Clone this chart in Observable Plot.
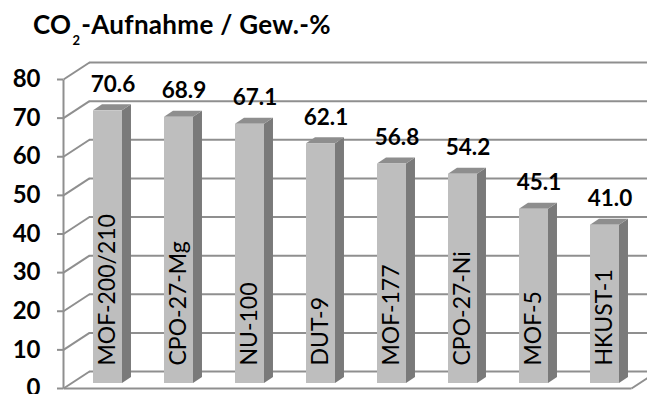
<!DOCTYPE html>
<html>
<head>
<meta charset="utf-8">
<script src="https://cdn.jsdelivr.net/npm/d3@7"></script>
<script src="https://cdn.jsdelivr.net/npm/@observablehq/plot@0.6"></script>
<style>
  html, body { margin: 0; padding: 0; background: #fff; }
  #wrap { width: 647px; height: 394px; overflow: hidden; }
  #title {
    height: 48px; box-sizing: border-box; padding: 11px 0 0 33px;
    font: bold 26px/26px Lato, sans-serif; color: #000; white-space: nowrap;
    letter-spacing: 0.3px;
  }
  #title .sub { font-size: 13px; position: relative; top: 11px; margin: 0 1px; }
  #chart svg { display: block; }
</style>
</head>
<body>
<div id="wrap">
  <div id="title">CO<span class="sub">2</span>-Aufnahme / Gew.-%</div>
  <div id="chart"></div>
</div>
<script>
// CO2 uptake of metal-organic frameworks, weight percent
const categories = ["MOF-200/210", "CPO-27-Mg", "NU-100", "DUT-9", "MOF-177", "CPO-27-Ni", "MOF-5", "HKUST-1"];
const uptake = [70.6, 68.9, 67.1, 62.1, 56.8, 54.2, 45.1, 41.0];
const yTicks = [0, 10, 20, 30, 40, 50, 60, 70, 80];

const W = 647, H = 346;
const margin = {left: 72, right: 7, top: 26, bottom: 11};
const xDomain = [-0.5, categories.length - 0.5];
const yDomain = [0, 80];

// pixels per data unit, used to express the oblique depth offsets in data units
const kx = (W - margin.left - margin.right) / (xDomain[1] - xDomain[0]);
const ky = (H - margin.top - margin.bottom) / (yDomain[1] - yDomain[0]);
const off = (px, py) => ({x: px / kx, y: -py / ky});
const front = off(-9, 5);    // front plane of the box (axis side)
const back = off(17, -12);   // back wall
const depth = off(9, -6);    // bar depth
const half = 0.204;          // half bar width, in slots

const rows = categories.map((name, i) => ({name, i, value: uptake[i]}));

// faces of each bar as two-point areas (parallelograms)
const sides = rows.flatMap(d => [
  {name: d.name, x: d.i + half, y1: 0, y2: d.value},
  {name: d.name, x: d.i + half + depth.x, y1: depth.y, y2: d.value + depth.y}
]);
const tops = rows.flatMap(d => [
  {name: d.name, y: d.value, x1: d.i - half, x2: d.i + half},
  {name: d.name, y: d.value + depth.y, x1: d.i - half + depth.x, x2: d.i + half + depth.x}
]);

const x0 = xDomain[0], x1 = xDomain[1];
const grid = "#8f8f8f";

const chart = Plot.plot({
  width: W, height: H,
  marginLeft: margin.left, marginRight: margin.right,
  marginTop: margin.top, marginBottom: margin.bottom,
  x: {domain: xDomain, axis: null},
  y: {domain: yDomain, axis: null},
  style: {fontFamily: "Lato, sans-serif", background: "#fff", overflow: "visible"},
  marks: [
    // back wall gridlines
    Plot.ruleY(yTicks, {y: t => t + back.y, x1: x0 + back.x, x2: x1 + back.x + 1, stroke: grid, strokeWidth: 2}),
    // side wall gridlines
    Plot.link(yTicks, {x1: x0 + front.x, y1: t => t + front.y, x2: x0 + back.x, y2: t => t + back.y, stroke: grid, strokeWidth: 2}),
    // floor edges
    Plot.link([0], {x1: x0 + front.x, y1: front.y, x2: x1 + front.x, y2: front.y, stroke: grid, strokeWidth: 2}),
    Plot.link([0], {x1: x1 + front.x, y1: front.y, x2: x1 + back.x, y2: back.y, stroke: grid, strokeWidth: 2}),
    // value axis
    Plot.link([0], {x1: x0 + front.x, y1: yDomain[0] + front.y, x2: x0 + front.x, y2: yDomain[1] + front.y, stroke: grid, strokeWidth: 2}),
    Plot.ruleY(yTicks, {y: t => t + front.y, x1: x0 + front.x - 6 / kx, x2: x0 + front.x, stroke: grid, strokeWidth: 2}),
    Plot.text(yTicks, {x: x0 + front.x, y: t => t + front.y, text: t => String(t), dx: -23, textAnchor: "end", lineAnchor: "middle", fontSize: 24, fontWeight: "bold", fill: "#000"}),
    // bars
    Plot.areaY(sides, {x: "x", y1: "y1", y2: "y2", z: "name", fill: "#7a7a7a", curve: "linear"}),
    Plot.areaX(tops, {y: "y", x1: "x1", x2: "x2", z: "name", fill: "#8e8e8e", curve: "linear"}),
    Plot.rect(rows, {x1: d => d.i - half, x2: d => d.i + half, y1: 0, y2: "value", fill: "#bebebe"}),
    // category names inside the bars
    Plot.text(rows, {x: "i", y: 0, text: "name", rotate: -90, textAnchor: "start", lineAnchor: "middle", dy: -18, fontSize: 23, fill: "#000"}),
    // value labels
    Plot.text(rows, {x: "i", y: "value", text: d => d.value.toFixed(1), dx: 5, dy: -19, lineAnchor: "bottom", fontSize: 22.5, fontWeight: "bold", fill: "#000"})
  ]
});
document.getElementById("chart").appendChild(chart);
</script>
</body>
</html>
